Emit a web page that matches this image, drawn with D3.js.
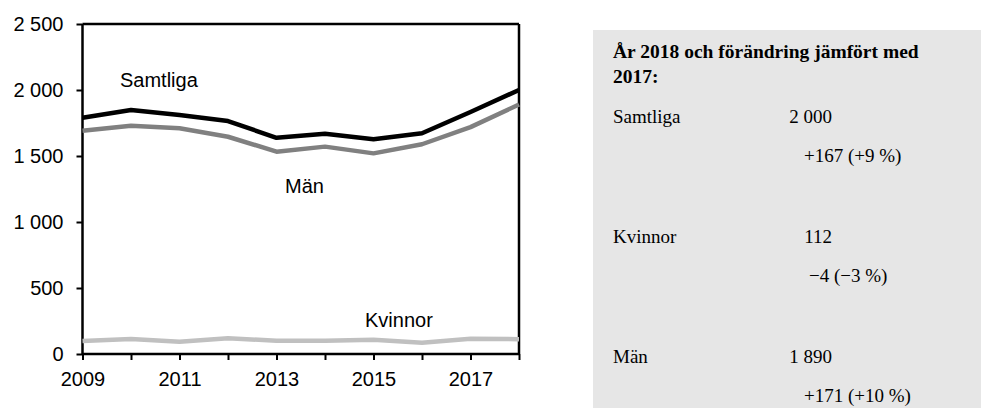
<!DOCTYPE html>
<html>
<head>
<meta charset="utf-8">
<script src="https://cdn.jsdelivr.net/npm/d3@7"></script>
<style>
  body { margin: 0; background: #fff; }
  svg { display: block; }
  .tick text { font-family: "Liberation Sans", Arial, sans-serif; font-size: 20px; fill: #000; }
  .lbl { font-family: "Liberation Sans", Arial, sans-serif; font-size: 20px; }
  .box text { font-family: "Liberation Serif", "Times New Roman", serif; font-size: 19px; fill: #000; }
</style>
</head>
<body>
<script>
// data
const years = [2009, 2010, 2011, 2012, 2013, 2014, 2015, 2016, 2017, 2018]
const samtliga = [1790, 1848, 1810, 1765, 1638, 1668, 1627, 1672, 1833, 2000]
const man = [1692, 1730, 1710, 1646, 1533, 1571, 1520, 1589, 1719, 1890]
const kvinnor = [98, 114, 93, 119, 101, 100, 108, 86, 116, 112]
const yTicks = [0, 500, 1000, 1500, 2000, 2500]
const xTicks = [2009, 2011, 2013, 2015, 2017]

const boxTitle = ['År 2018 och förändring jämfört med', '2017:']
const boxRows = [
    {name: 'Samtliga', value: '2 000', change: '+167 (+9 %)'},
    {name: 'Kvinnor', value: '112', change: '\u22124 (\u22123 %)'},
    {name: 'Män', value: '1 890', change: '+171 (+10 %)'}
]

const width = 981, height = 408
const svg = d3.select('body').append('svg')
    .attr('width', width)
    .attr('height', height)

const x = d3.scaleLinear().domain([2009, 2018]).range([82.5, 519])
const y = d3.scaleLinear().domain([0, 2500]).range([354, 24])
const fmt = v => d3.format(',')(v).replace(',', ' ')

// frame
svg.append('line').attr('x1', x(2009)).attr('x2', x(2018)).attr('y1', y(2500)).attr('y2', y(2500))
    .attr('stroke', '#000').attr('stroke-width', 2.5)
svg.append('line').attr('x1', x(2018)).attr('x2', x(2018)).attr('y1', y(2500)).attr('y2', y(0))
    .attr('stroke', '#000').attr('stroke-width', 2.5)

let yAxis = svg.append('g')
    .attr('transform', `translate(${x(2009)},0)`)
    .call(d3.axisLeft(y).tickValues(yTicks).tickFormat(fmt).tickSize(6).tickPadding(13))
let xAxis = svg.append('g')
    .attr('transform', `translate(0,${y(0)})`)
    .call(d3.axisBottom(x).tickValues(years).tickFormat(d => xTicks.includes(d) ? d : '').tickSize(6).tickPadding(12))
svg.selectAll('.domain').attr('stroke', '#000').attr('stroke-width', 2.5)
svg.selectAll('.tick line').attr('stroke', '#000').attr('stroke-width', 2)
yAxis.selectAll('.domain').attr('d', `M0,${y(2500)}V${y(0)}`)
xAxis.selectAll('.domain').attr('d', `M${x(2009)},0H${x(2018)}`)

const line = d3.line().x((d, i) => x(years[i])).y(d => y(d))
const series = [
    {values: kvinnor, color: '#c0c0c0'},
    {values: man, color: '#808080'},
    {values: samtliga, color: '#000'}
]
svg.selectAll('.series')
    .data(series).enter()
    .append('path')
    .attr('class', 'series')
    .attr('d', d => line(d.values))
    .attr('fill', 'none')
    .attr('stroke', d => d.color)
    .attr('stroke-width', 4.5)
    .attr('stroke-linejoin', 'round')

// line labels
svg.append('text').attr('class', 'lbl').attr('x', 120).attr('y', 87).text('Samtliga')
svg.append('text').attr('class', 'lbl').attr('x', 285).attr('y', 193).text('Män')
svg.append('text').attr('class', 'lbl').attr('x', 365).attr('y', 327).text('Kvinnor')

// summary box
let box = svg.append('g').attr('class', 'box')
box.append('rect').attr('x', 593).attr('y', 30).attr('width', 388).attr('height', 378).attr('fill', '#e6e6e6')
boxTitle.forEach((t, i) => {
    box.append('text').attr('x', 613).attr('y', 58 + i * 25)
        .attr('font-weight', 'bold').style('font-size', '19.5px').text(t)
})
boxRows.forEach((r, i) => {
    let by = 123 + i * 120
    box.append('text').attr('x', 832).attr('y', by).attr('text-anchor', 'end').text(r.value)
    box.append('text').attr('x', 613).attr('y', by).text(r.name)
    box.append('text').attr('x', 804 + (r.change[0] === '+' ? 0 : 5)).attr('y', by + 39).text(r.change)
})
</script>
</body>
</html>
